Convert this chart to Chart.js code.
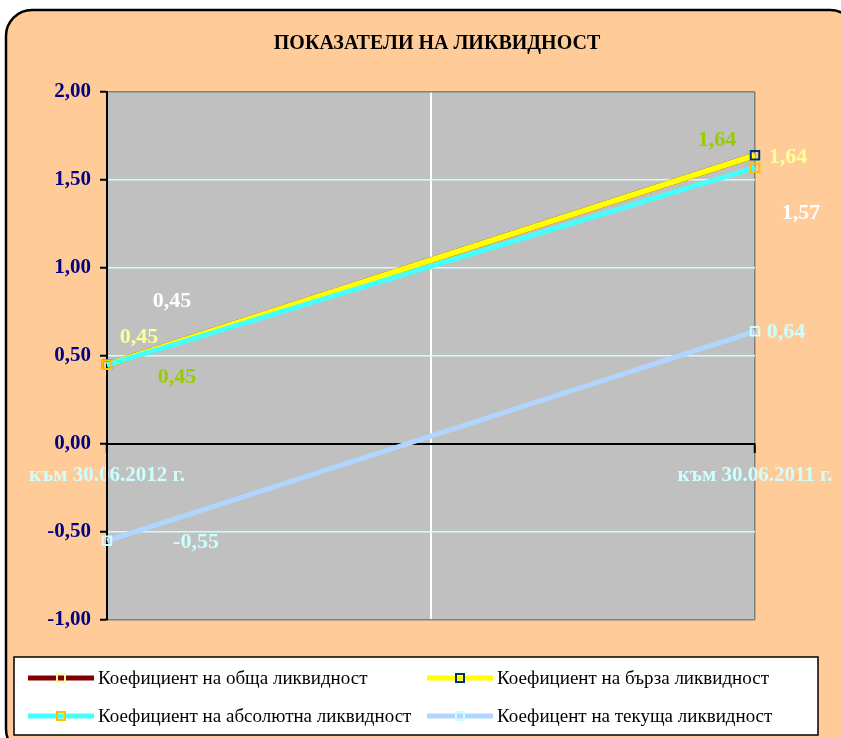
<!DOCTYPE html>
<html>
<head>
<meta charset="utf-8">
<script src="https://cdn.jsdelivr.net/npm/chart.js@4/dist/chart.umd.min.js"></script>
<style>
  html, body { margin: 0; padding: 0; background: #ffffff; }
  #wrap { width: 841px; height: 738px; }
</style>
</head>
<body>
<div id="wrap"><canvas id="c" width="841" height="738"></canvas></div>
<script>
// ---------- DATA ----------
const chartTitle = 'ПОКАЗАТЕЛИ НА ЛИКВИДНОСТ';
const categories = ['към 30.06.2012 г.', 'към 30.06.2011 г.'];
const seriesNames = [
  'Коефициент на обща ликвидност',
  'Коефициент на бърза ликвидност',
  'Коефициент на абсолютна ликвидност',
  'Коефицент на текуща ликвидност'
];
const obshtaLikvidnost = [0.45, 1.64];
const barzaLikvidnost = [0.45, 1.64];
const absolyutnaLikvidnost = [0.45, 1.57];
const tekushtaLikvidnost = [-0.55, 0.64];
const yMin = -1.0, yMax = 2.0, yStep = 0.5;

// ---------- STYLE (positions of value labels relative to their point) ----------
const labelOffsets = [
  [[70, 13], [-38, -15]],
  [[32, -27], [33, 2]],
  [[65, -63], [46, 46]],
  [[89, 2], [31, 1]]
];
const labelColors = ['#99CC00', '#FFFF99', '#FFFFFF', '#CCFFFF'];

const fmt = v => v.toFixed(2).replace('.', ',');
const toXY = arr => arr.map((v, i) => ({ x: i, y: v }));

const seriesValues = [obshtaLikvidnost, barzaLikvidnost, absolyutnaLikvidnost, tekushtaLikvidnost];
const lineColors = ['#800000', '#FFFF00', '#45FFFF', '#B0D6FF'];
const lineWidths = [6, 6, 5, 5];
const markerColors = ['#FFFF99', '#003366', '#FFC000', '#CCFFFF'];

const datasets = seriesValues.map((vals, i) => ({
  label: seriesNames[i],
  data: toXY(vals),
  borderColor: lineColors[i],
  borderWidth: lineWidths[i],
  pointStyle: 'rect',
  pointRadius: 6,
  pointBorderWidth: 2,
  pointBorderColor: markerColors[i],
  pointBackgroundColor: 'rgba(0,0,0,0)',
  tension: 0,
  fill: false,
  clip: false,
  order: 4 - i
}));

const bgPlugin = {
  id: 'bg',
  beforeDraw(chart) {
    const ctx = chart.ctx;
    const ca = chart.chartArea;
    ctx.save();
    ctx.beginPath();
    ctx.roundRect(6, 10, 850, 745, 26);
    ctx.fillStyle = '#FFCC99';
    ctx.fill();
    ctx.lineWidth = 2.5;
    ctx.strokeStyle = '#000000';
    ctx.stroke();
    ctx.fillStyle = '#C0C0C0';
    ctx.fillRect(ca.left, ca.top, ca.right - ca.left, ca.bottom - ca.top);
    ctx.fillStyle = '#000000';
    ctx.font = 'bold 20px "Liberation Serif", serif';
    ctx.textAlign = 'center';
    ctx.textBaseline = 'middle';
    ctx.fillText(chartTitle, 437, 44);
    ctx.restore();
  },
  afterDraw(chart) {
    const ctx = chart.ctx;
    ctx.save();
    ctx.font = 'bold 22px "Liberation Serif", serif';
    ctx.textAlign = 'center';
    ctx.textBaseline = 'middle';
    chart.data.datasets.forEach((ds, i) => {
      const meta = chart.getDatasetMeta(i);
      meta.data.forEach((pt, j) => {
        const off = labelOffsets[i][j];
        ctx.fillStyle = labelColors[i];
        ctx.fillText(fmt(ds.data[j].y), pt.x + off[0], pt.y + off[1]);
      });
    });
    // legend
    ctx.fillStyle = '#FFFFFF';
    ctx.fillRect(14, 657, 804, 78);
    ctx.lineWidth = 1.5;
    ctx.strokeStyle = '#000000';
    ctx.strokeRect(14, 657, 804, 78);
    const cols = [28, 427];
    const rows = [678, 716];
    ctx.font = '19px "Liberation Serif", serif';
    ctx.textAlign = 'left';
    chart.data.datasets.forEach((ds, i) => {
      const x = cols[i % 2], y = rows[Math.floor(i / 2)];
      const len = 66;
      ctx.beginPath();
      ctx.moveTo(x, y);
      ctx.lineTo(x + len, y);
      ctx.strokeStyle = lineColors[i];
      ctx.lineWidth = 5;
      ctx.stroke();
      ctx.lineWidth = 2;
      ctx.strokeStyle = markerColors[i];
      ctx.strokeRect(x + len / 2 - 4, y - 4, 8, 8);
      ctx.fillStyle = '#000000';
      ctx.fillText(ds.label, x + len + 4, y + 1);
    });
    ctx.restore();
  }
};

new Chart(document.getElementById('c'), {
  type: 'line',
  data: { datasets },
  options: {
    responsive: false,
    animation: false,
    events: [],
    layout: { padding: { left: 0, top: 92, right: 86, bottom: 118 } },
    plugins: { legend: { display: false }, title: { display: false }, tooltip: { enabled: false } },
    scales: {
      x: {
        type: 'linear',
        min: 0, max: categories.length - 1,
        position: { y: 0 },
        afterFit: s => { s.paddingLeft = 0; s.paddingRight = 0; },
        border: { color: '#000000', width: 2 },
        grid: {
          color: c => c.tick.value === 0.5 ? '#FFFFFF' : (c.tick.value === 0 ? 'rgba(0,0,0,0)' : '#808080'),
          lineWidth: c => c.tick.value === 0.5 ? 2 : 1.5,
          tickColor: c => c.tick.value === 0.5 ? 'rgba(0,0,0,0)' : '#000000',
          tickLength: 8,
          tickWidth: 2
        },
        ticks: {
          stepSize: 0.5,
          autoSkip: false,
          maxRotation: 0,
          padding: 11,
          color: '#CCFFFF',
          font: { family: '"Liberation Serif", serif', weight: 'bold', size: 21 },
          callback: v => Number.isInteger(v) ? categories[v] : ''
        }
      },
      y: {
        min: yMin, max: yMax,
        afterFit: s => { s.width = 107; },
        border: { color: '#000000', width: 2 },
        grid: {
          color: c => {
            const v = c.tick.value;
            if (v === yMin || v === yMax) return '#808080';
            if (v === 0) return '#000000';
            return '#CCFFFF';
          },
          lineWidth: 1.5,
          tickColor: '#000000',
          tickLength: 7,
          tickWidth: 2
        },
        ticks: {
          stepSize: yStep,
          padding: 9,
          color: '#000080',
          font: { family: '"Liberation Serif", serif', weight: 'bold', size: 21 },
          callback: v => fmt(v)
        }
      }
    }
  },
  plugins: [bgPlugin]
});
</script>
</body>
</html>
